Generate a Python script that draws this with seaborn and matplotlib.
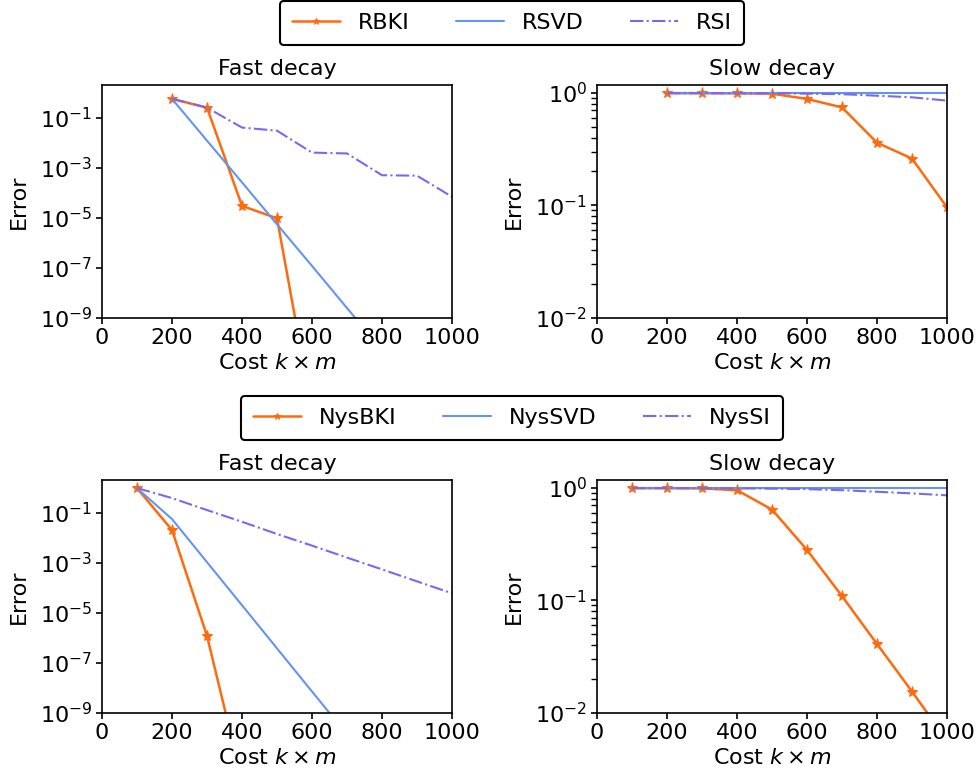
import numpy as np
import pandas as pd
import seaborn as sns
import matplotlib
matplotlib.use("Agg")
import matplotlib.pyplot as plt

sns.set_theme(style="ticks", rc={'text.color': 'black', 'axes.labelcolor': 'black',
                                 'xtick.color': 'black', 'ytick.color': 'black',
                                 'axes.edgecolor': 'black'})
plt.rcParams['font.family'] = ['DejaVu Sans']
plt.rcParams['mathtext.fontset'] = 'dejavusans'

# top row (RBKI / RSVD / RSI), cost k*m
cost_top = [200, 300, 400, 500, 600, 700, 800, 900, 1000]
fast_rbki = [0.56, 0.25, 3e-5, 9.5e-6, 2e-13, 1e-15, 1e-15, 1e-15, 1e-15]
fast_rsvd = [0.56, 0.012, 2.6e-4, 5.5e-6, 1.2e-7, 2.5e-9, 5.4e-11, 1.1e-12, 2.5e-14]
fast_rsi = [0.56, 0.25, 0.04, 0.03, 0.004, 0.0037, 5e-4, 4.8e-4, 6.9e-5]
slow_rbki = [0.99, 0.99, 0.985, 0.98, 0.88, 0.74, 0.36, 0.26, 0.096]
slow_rsvd = [0.99, 0.99, 0.99, 0.99, 0.99, 0.99, 0.99, 0.99, 0.99]
slow_rsi = [0.99, 0.99, 0.99, 0.99, 0.98, 0.97, 0.94, 0.91, 0.85]

# bottom row (NysBKI / NysSVD / NysSI)
cost_bot = [100, 200, 300, 400, 500, 600, 700, 800, 900, 1000]
fast_nysbki = [0.95, 0.02, 1.2e-6, 2e-12, 1e-15, 1e-15, 1e-15, 1e-15, 1e-15, 1e-15]
fast_nyssvd = [0.95, 0.055, 1.05e-3, 2e-5, 3.8e-7, 7.2e-9, 1.4e-10, 2.6e-12, 5e-14, 1e-15]
fast_nyssi = [0.95, 0.38, 0.126, 0.043, 0.014, 4.8e-3, 1.6e-3, 5.4e-4, 1.8e-4, 6e-5]
slow_nysbki = [0.99, 0.99, 0.985, 0.95, 0.64, 0.28, 0.109, 0.041, 0.0155, 0.0057]
slow_nyssvd = [0.99] * 10
slow_nyssi = [0.99, 0.99, 0.99, 0.985, 0.98, 0.97, 0.95, 0.92, 0.89, 0.855]

orange = '#ff6a0d'
blue = '#6495ed'
purple = '#7b68ee'
FS = 16

fig = plt.figure(figsize=(9.77, 7.74), dpi=100)
W, H = 977, 774
def box(x0, y0, x1, y1):
    return [x0 / W, 1 - y1 / H, (x1 - x0) / W, (y1 - y0) / H]

ax_tl = fig.add_axes(box(102, 85, 452, 318))
ax_tr = fig.add_axes(box(597, 85, 947, 318))
ax_bl = fig.add_axes(box(102, 480, 452, 713))
ax_br = fig.add_axes(box(597, 480, 947, 713))


def draw(ax, x, bki, svd, si, names, title, ylim):
    sns.lineplot(x=x, y=bki, ax=ax, color=orange, marker='*', markersize=8,
                 markeredgecolor=orange, linewidth=1.8, label=names[0])
    sns.lineplot(x=x, y=svd, ax=ax, color=blue, linewidth=1.5, label=names[1])
    sns.lineplot(x=x, y=si, ax=ax, color=purple, linewidth=1.5, linestyle='-.',
                 label=names[2])
    ax.set_yscale('log')
    ax.set_xlim(0, 1000)
    ax.set_ylim(*ylim)
    ax.set_xticks([0, 200, 400, 600, 800, 1000])
    ax.set_title(title, fontsize=FS, pad=7)
    ax.set_xlabel(r'Cost $k \times m$', fontsize=FS, labelpad=4)
    ax.set_ylabel('Error', fontsize=FS, labelpad=8)
    ax.tick_params(labelsize=FS, direction='out', length=4, width=1.2, pad=3)
    for s in ax.spines.values():
        s.set_linewidth(1.2)
    ax.get_legend().remove()


top_names = ['RBKI', 'RSVD', 'RSI']
bot_names = ['NysBKI', 'NysSVD', 'NysSI']
draw(ax_tl, cost_top, fast_rbki, fast_rsvd, fast_rsi, top_names, 'Fast decay', (1e-9, 2))
draw(ax_tr, cost_top, slow_rbki, slow_rsvd, slow_rsi, top_names, 'Slow decay', (1e-2, 1.17))
draw(ax_bl, cost_bot, fast_nysbki, fast_nyssvd, fast_nyssi, bot_names, 'Fast decay', (1e-9, 2))
draw(ax_br, cost_bot, slow_nysbki, slow_nyssvd, slow_nyssi, bot_names, 'Slow decay', (1e-2, 1.17))

for ax in [ax_tl, ax_bl]:
    ax.set_yticks([1e-9, 1e-7, 1e-5, 1e-3, 1e-1])
    ax.set_yticks([], minor=True)

for ax, y in [(ax_tl, 23 / H), (ax_bl, 418 / H)]:
    h, l = ax.get_legend_handles_labels()
    leg = fig.legend(h, l, loc='center', bbox_to_anchor=(512 / W, 1 - y), ncol=3,
                     fontsize=FS, frameon=True, fancybox=True, edgecolor='black',
                     columnspacing=2.1, handlelength=2.16, handletextpad=0.8,
                     borderpad=0.55, markerscale=0.6)
    leg.get_frame().set_linewidth(1.5)
    leg.get_frame().set_alpha(1)

fig.savefig('out.png', dpi=100)
